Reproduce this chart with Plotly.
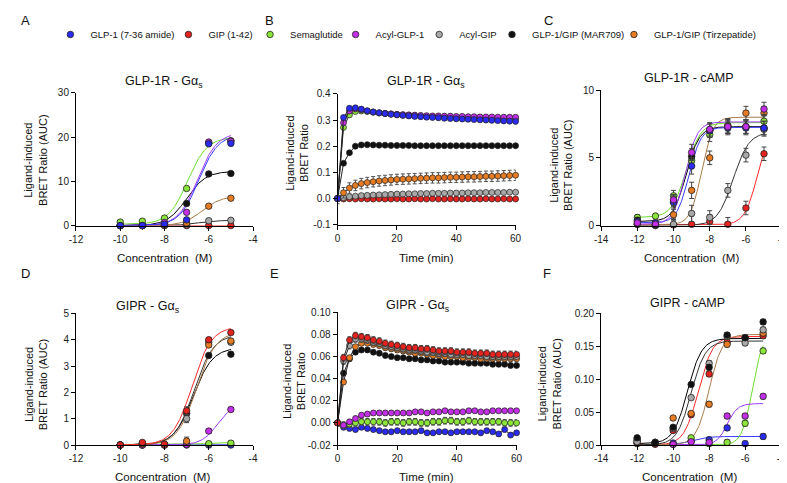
import numpy as np
import plotly.graph_objects as go

# ---------------- series metadata ----------------
names = ["GLP-1 (7-36 amide)", "GIP (1-42)", "Semaglutide", "Acyl-GLP-1",
         "Acyl-GIP", "GLP-1/GIP (MAR709)", "GLP-1/GIP (Tirzepatide)"]
marker_colors = ["#2b2bef", "#e2231f", "#8be43a", "#c22fe6", "#a8a8a8", "#111111", "#e57c24"]
curve_colors = ["#3a3aff", "#ff2a2a", "#6fdc2c", "#9d3cff", "#333333", "#000000", "#a87b4a"]

# ---------------- x values ----------------
conc_gas = [-10, -9, -8, -7, -6, -5]
conc_camp = [-12, -11, -10, -9, -8, -7, -6, -5]
time_min = [0, 2, 4, 6, 8, 10, 12, 14, 16, 18, 20, 22, 24, 26, 28, 30,
            32, 34, 36, 38, 40, 42, 44, 46, 48, 50, 52, 54, 56, 58, 60]

# ---------------- Panel A: GLP-1R Gas AUC ----------------
a_glp1 = [0.0, 0.0, 0.3, 1.3, 18.5, 18.6]
a_gip = [0.0, 0.0, 0.0, 0.0, 0.0, 0.0]
a_sema = [0.8, 1.0, 1.7, 8.4, 18.7, 19.2]
a_acylglp1 = [0.0, 0.0, 0.7, 3.0, 18.9, 19.1]
a_acylgip = [0.0, 0.0, 0.1, 0.2, 1.1, 1.2]
a_mar709 = [0.0, 0.0, 0.5, 5.0, 11.7, 11.8]
a_tirz = [0.0, 0.0, 0.1, 0.6, 4.4, 6.2]
a_err = [0.3, 0.3, 0.3, 0.4, 0.4, 0.4]
# fitted curve parameters: bottom, top, logEC50, hill
a_fit = [(0, 20.6, -6.45, 1.0), (0, 0.02, -6.0, 1.0), (0.3, 20.0, -6.95, 1.0),
         (0, 21.0, -6.5, 1.0), (0, 1.2, -6.5, 1.0), (0, 12.3, -7.0, 1.0), (0, 6.7, -6.3, 1.0)]

# ---------------- Panel B: GLP-1R Gas kinetics ----------------
b_glp1 = [0.000, 0.310, 0.345, 0.347, 0.342, 0.336, 0.331, 0.328, 0.325, 0.322, 0.320,
          0.318, 0.316, 0.314, 0.313, 0.311, 0.310, 0.309, 0.307, 0.306, 0.305,
          0.304, 0.303, 0.302, 0.301, 0.300, 0.299, 0.298, 0.297, 0.296, 0.295]
b_gip = [0.000, -0.002, -0.001, -0.002, -0.001, -0.002, -0.002, -0.001, -0.002, -0.002, -0.001,
         -0.002, -0.002, -0.001, -0.002, -0.002, -0.001, -0.002, -0.002, -0.001, -0.002,
         -0.002, -0.001, -0.002, -0.002, -0.001, -0.002, -0.002, -0.001, -0.002, -0.002]
b_sema = [0.000, 0.272, 0.320, 0.333, 0.335, 0.333, 0.330, 0.327, 0.325, 0.323, 0.321,
          0.319, 0.318, 0.317, 0.315, 0.314, 0.313, 0.312, 0.311, 0.311, 0.310,
          0.309, 0.309, 0.308, 0.308, 0.307, 0.307, 0.306, 0.306, 0.306, 0.305]
b_acylglp1 = [0.000, 0.290, 0.335, 0.343, 0.340, 0.335, 0.331, 0.328, 0.326, 0.324, 0.322,
              0.321, 0.320, 0.319, 0.318, 0.317, 0.316, 0.316, 0.315, 0.315, 0.314,
              0.314, 0.313, 0.313, 0.312, 0.312, 0.312, 0.311, 0.311, 0.311, 0.311]
b_acylgip = [0.000, 0.003, 0.007, 0.009, 0.011, 0.012, 0.013, 0.014, 0.015, 0.016, 0.017,
             0.017, 0.018, 0.018, 0.019, 0.019, 0.020, 0.020, 0.020, 0.021, 0.021,
             0.021, 0.022, 0.022, 0.022, 0.023, 0.023, 0.023, 0.023, 0.024, 0.024]
b_mar709 = [0.000, 0.135, 0.175, 0.200, 0.205, 0.206, 0.205, 0.204, 0.204, 0.203, 0.203,
            0.203, 0.203, 0.202, 0.202, 0.202, 0.202, 0.202, 0.202, 0.202, 0.202,
            0.202, 0.202, 0.202, 0.202, 0.202, 0.202, 0.202, 0.202, 0.202, 0.202]
b_tirz = [0.000, 0.022, 0.040, 0.050, 0.057, 0.061, 0.064, 0.067, 0.069, 0.071, 0.073,
          0.074, 0.075, 0.076, 0.077, 0.078, 0.079, 0.079, 0.080, 0.081, 0.081,
          0.082, 0.083, 0.083, 0.084, 0.085, 0.085, 0.086, 0.087, 0.088, 0.089]
b_err = [0.008, 0.003, 0.008, 0.008, 0.005, 0.003, 0.020]

# ---------------- Panel C: GLP-1R cAMP ----------------
c_glp1 = [0.3, 0.2, 1.7, 4.4, 7.0, 7.2, 7.2, 7.2]
c_gip = [0.1, 0.05, 0.05, 0.1, 0.3, 0.1, 1.3, 5.3]
c_sema = [0.6, 0.7, 2.2, 4.8, 6.7, 7.4, 7.3, 7.7]
c_acylglp1 = [0.2, 0.1, 1.9, 5.4, 7.1, 7.3, 7.3, 8.6]
c_acylgip = [0.1, 0.0, 0.1, 0.9, 0.6, 2.6, 5.2, 7.1]
c_mar709 = [0.4, 0.05, 1.8, 5.1, 7.0, 7.3, 7.3, 7.2]
c_tirz = [0.1, 0.1, 0.8, 2.6, 5.0, 7.3, 8.3, 8.3]
c_err = [0.2, 0.2, 0.4, 0.6, 0.5, 0.5, 0.5, 0.5]
c_fit = [(0.2, 7.25, -9.15, 1.3), (0.05, 7.5, -5.35, 1.2), (0.6, 7.6, -9.3, 1.1),
         (0.1, 7.65, -9.35, 1.3), (0.0, 6.9, -6.7, 1.0), (0.3, 7.3, -9.3, 1.2), (0.05, 8.0, -8.45, 1.4)]

# ---------------- Panel D: GIPR Gas AUC ----------------
d_glp1 = [0.0, 0.0, 0.0, 0.0, 0.0, 0.0]
d_gip = [0.0, 0.1, 0.03, 1.3, 4.0, 4.27]
d_sema = [0.0, 0.0, 0.02, 0.02, 0.05, 0.07]
d_acylglp1 = [0.0, 0.0, 0.0, 0.02, 0.53, 1.35]
d_acylgip = [0.0, 0.05, 0.02, 1.0, 3.9, 3.9]
d_mar709 = [0.0, 0.05, 0.02, 1.2, 3.4, 3.45]
d_tirz = [0.0, 0.05, 0.0, 0.15, 3.8, 3.95]
d_err = [0.03, 0.03, 0.03, 0.15, 0.08, 0.08]
d_fit = [(0, 0.01, -6.0, 1.0), (0, 4.5, -6.75, 1.0), (0.02, 0.1, -6.0, 1.0),
         (0, 1.6, -5.6, 1.2), (0, 4.2, -6.65, 1.0), (0, 3.7, -6.7, 1.0), (0, 4.3, -6.55, 1.0)]

# ---------------- Panel E: GIPR Gas kinetics ----------------
e_glp1 = [0.000, -0.004, -0.005, -0.006, -0.004, -0.005, -0.006, -0.007, -0.008, -0.008, -0.007,
          -0.008, -0.008, -0.008, -0.007, -0.009, -0.009, -0.008, -0.008, -0.009, -0.008,
          -0.008, -0.008, -0.008, -0.009, -0.007, -0.008, -0.010, -0.006, -0.011, -0.009]
e_gip = [0.000, 0.059, 0.075, 0.079, 0.078, 0.077, 0.075, 0.074, 0.072, 0.071, 0.070,
         0.069, 0.068, 0.068, 0.067, 0.067, 0.066, 0.065, 0.065, 0.065, 0.064,
         0.064, 0.064, 0.063, 0.063, 0.063, 0.062, 0.062, 0.062, 0.062, 0.062]
e_sema = [0.000, -0.002, -0.001, 0.000, 0.001, 0.001, 0.001, 0.001, 0.000, 0.001, 0.001,
          0.000, 0.001, 0.001, 0.000, 0.000, 0.001, 0.001, 0.002, 0.002, 0.001,
          0.001, 0.002, 0.001, 0.001, 0.001, 0.001, 0.001, 0.000, 0.000, 0.000]
e_acylglp1 = [0.000, -0.002, 0.001, 0.004, 0.007, 0.008, 0.009, 0.009, 0.009, 0.009, 0.009,
              0.009, 0.009, 0.010, 0.010, 0.009, 0.010, 0.010, 0.011, 0.010, 0.010,
              0.010, 0.011, 0.011, 0.010, 0.010, 0.011, 0.011, 0.011, 0.011, 0.011]
e_acylgip = [0.000, 0.056, 0.070, 0.076, 0.076, 0.075, 0.073, 0.072, 0.070, 0.069, 0.068,
             0.067, 0.066, 0.066, 0.065, 0.064, 0.064, 0.063, 0.063, 0.062, 0.062,
             0.062, 0.061, 0.061, 0.061, 0.060, 0.060, 0.060, 0.060, 0.060, 0.060]
e_mar709 = [0.000, 0.045, 0.058, 0.064, 0.066, 0.066, 0.064, 0.063, 0.061, 0.060, 0.059,
            0.059, 0.058, 0.058, 0.057, 0.057, 0.056, 0.056, 0.055, 0.055, 0.055,
            0.055, 0.054, 0.054, 0.054, 0.054, 0.053, 0.053, 0.053, 0.052, 0.052]
e_tirz = [0.000, 0.037, 0.059, 0.069, 0.072, 0.072, 0.071, 0.070, 0.068, 0.067, 0.066,
          0.065, 0.064, 0.063, 0.063, 0.062, 0.061, 0.061, 0.060, 0.060, 0.060,
          0.059, 0.059, 0.059, 0.058, 0.058, 0.058, 0.058, 0.058, 0.058, 0.058]
e_err = [0.002, 0.003, 0.003, 0.002, 0.003, 0.002, 0.002]

# ---------------- Panel F: GIPR cAMP ----------------
f_glp1 = [0.009, 0.004, 0.003, 0.006, 0.008, 0.026, 0.002, 0.013]
f_gip = [0.003, 0.001, 0.022, 0.046, 0.108, 0.156, 0.163, 0.166]
f_sema = [0.002, 0.004, 0.001, 0.011, 0.002, 0.004, 0.033, 0.143]
f_acylglp1 = [0.004, 0.002, 0.001, 0.005, 0.004, 0.044, 0.044, 0.074]
f_acylgip = [0.005, 0.003, 0.025, 0.072, 0.124, 0.165, 0.155, 0.175]
f_mar709 = [0.011, 0.004, 0.027, 0.092, 0.118, 0.167, 0.163, 0.187]
f_tirz = [0.007, 0.003, 0.041, 0.048, 0.062, 0.153, 0.162, 0.170]
f_err = [0.002, 0.002, 0.003, 0.003, 0.004, 0.004, 0.004, 0.004]
f_fit = [(0.0, 0.013, -9.0, 1.0), (0.0, 0.165, -8.6, 1.1), (0.0, 0.17, -5.6, 1.5),
         (0.0, 0.063, -7.0, 1.5), (0.0, 0.158, -9.0, 1.1), (0.002, 0.162, -9.2, 1.1), (0.0, 0.168, -8.0, 1.2)]

# ---------------- tick labels ----------------
conc_ticks_a = [-12, -10, -8, -6, -4]
conc_ticks_c = [-14, -12, -10, -8, -6, -4]
time_ticks = [0, 20, 40, 60]
a_yticks = [0, 10, 20, 30]
b_yticks = [-0.1, 0.0, 0.1, 0.2, 0.3, 0.4]
c_yticks = [0, 5, 10]
d_yticks = [0, 1, 2, 3, 4, 5]
e_yticks = [-0.02, 0.00, 0.02, 0.04, 0.06, 0.08, 0.10]
f_yticks = [0.00, 0.05, 0.10, 0.15, 0.20]

panel_titles = ["GLP-1R - G&#945;<sub>s</sub>", "GLP-1R - G&#945;<sub>s</sub>", "GLP-1R - cAMP",
                "GIPR - G&#945;<sub>s</sub>", "GIPR - G&#945;<sub>s</sub>", "GIPR - cAMP"]
x_titles = ["Concentration\u00a0 (M)", "Time (min)", "Concentration\u00a0 (M)",
            "Concentration\u00a0 (M)", "Time (min)", "Concentration\u00a0 (M)"]
y_titles = ["Ligand-induced<br>BRET Ratio (AUC)", "Ligand-induced<br>BRET Ratio",
            "Ligand-induced<br>BRET Ratio (AUC)", "Ligand-induced<br>BRET Ratio (AUC)",
            "Ligand-induced<br>BRET Ratio", "Ligand-induced<br>BRET Ratio (AUC)"]
panel_letters = ["A", "B", "C", "D", "E", "F"]

W, H = 787, 483
FONT = "Liberation Sans, Arial, Helvetica, sans-serif"


def fmt(v, d):
    return f"{v:.{d}f}"


def px_x(p):
    return p / W


def px_y(p):
    return 1 - p / H


def logistic(x, bottom, top, logec50, hill):
    return bottom + (top - bottom) / (1 + 10 ** ((logec50 - x) * hill))


fig = go.Figure()

# panel boxes in pixels: left, right, top, bottom
boxes = [(62, 242, 81, 217), (328, 509, 82, 216), (596, 780, 78, 217),
         (62, 242, 307, 442), (328, 510, 306, 442), (596, 779, 307, 442)]
ranges_x = [[-12, -4], [0, 60], [-14, -4], [-12, -4], [0, 60], [-14, -4]]
ranges_y = [[0, 30], [-0.1, 0.4], [0, 10], [0, 5], [-0.02, 0.10], [0, 0.20]]
xticks = [conc_ticks_a, time_ticks, conc_ticks_c, conc_ticks_a, time_ticks, conc_ticks_c]
yticks = [a_yticks, b_yticks, c_yticks, d_yticks, e_yticks, f_yticks]
ydec = [0, 1, 0, 0, 2, 2]

for i in range(6):
    l, r, t, b = boxes[i]
    sfx = "" if i == 0 else str(i + 1)
    common = dict(showline=True, linecolor="black", linewidth=1, ticks="outside",
                  ticklen=4, tickwidth=1, tickcolor="black", showgrid=False,
                  zeroline=False, fixedrange=True,
                  tickfont=dict(size=10, color="#1a1a1a", family=FONT))
    fig.layout["xaxis" + sfx] = dict(
        domain=[px_x(l), px_x(r)], range=ranges_x[i], anchor="y" + sfx,
        tickvals=xticks[i], ticktext=[str(v) for v in xticks[i]], **common)
    fig.layout["yaxis" + sfx] = dict(
        domain=[px_y(b), px_y(t)], range=ranges_y[i], anchor="x" + sfx,
        tickvals=yticks[i], ticktext=[fmt(v, ydec[i]) for v in yticks[i]], **common)

# ---------------- dose-response panels ----------------
dose_panels = [
    (0, conc_gas, [a_glp1, a_gip, a_sema, a_acylglp1, a_acylgip, a_mar709, a_tirz], a_err, a_fit, [1, 4, 6, 5, 2, 3, 0]),
    (2, conc_camp, [c_glp1, c_gip, c_sema, c_acylglp1, c_acylgip, c_mar709, c_tirz], c_err, c_fit, [1, 4, 6, 2, 5, 0, 3]),
    (3, conc_gas, [d_glp1, d_gip, d_sema, d_acylglp1, d_acylgip, d_mar709, d_tirz], d_err, d_fit, [0, 2, 3, 5, 4, 6, 1]),
    (5, conc_camp, [f_glp1, f_gip, f_sema, f_acylglp1, f_acylgip, f_mar709, f_tirz], f_err, f_fit, [0, 2, 3, 1, 6, 4, 5]),
]

for (pi, xs, series, err, fits, order) in dose_panels:
    sfx = "" if pi == 0 else str(pi + 1)
    xgrid = np.linspace(min(xs), max(xs), 200)
    for k in order:
        bot, top, ec, h = fits[k]
        fig.add_trace(go.Scatter(
            x=xgrid, y=logistic(xgrid, bot, top, ec, h), mode="lines",
            line=dict(color=curve_colors[k], width=1), hoverinfo="skip",
            showlegend=False, xaxis="x" + sfx, yaxis="y" + sfx, cliponaxis=False))
    for k in order:
        show = (pi == 0)
        fig.add_trace(go.Scatter(
            x=xs, y=series[k], mode="markers", name=names[k],
            marker=dict(size=6.5, color=marker_colors[k], line=dict(color="#222", width=0.8)),
            error_y=dict(type="data", array=err, color="#444", thickness=1, width=2.5),
            showlegend=show, legend=("legend" if k == 0 else "legend" + str(k + 1)),
            xaxis="x" + sfx, yaxis="y" + sfx, cliponaxis=False))

# ---------------- kinetic panels ----------------
kin_panels = [
    (1, [b_glp1, b_gip, b_sema, b_acylglp1, b_acylgip, b_mar709, b_tirz], b_err, [1, 4, 6, 5, 2, 3, 0]),
    (4, [e_glp1, e_gip, e_sema, e_acylglp1, e_acylgip, e_mar709, e_tirz], e_err, [0, 2, 3, 5, 6, 4, 1]),
]
for (pi, series, err, order) in kin_panels:
    sfx = str(pi + 1)
    for k in order:
        fig.add_trace(go.Scatter(
            x=time_min, y=series[k], mode="lines+markers",
            line=dict(color="#222", width=1),
            marker=dict(size=6, color=marker_colors[k], line=dict(color="#222", width=0.7)),
            error_y=dict(type="constant", value=err[k], color="#555", thickness=1, width=2),
            showlegend=False, xaxis="x" + sfx, yaxis="y" + sfx, cliponaxis=False))

# ---------------- annotations ----------------
ann = []
title_pos = [(152, 70), (418, 70), (685, 66), (135, 300), (410, 299), (684, 296)]
xtitle_pos = [(152, 250), (418, 250), (688, 250), (150, 475), (418, 475), (686, 475)]
ytitle_pos = [(21, 150), (287, 143), (555, 155), (21, 380), (283, 377), (543, 380)]
letter_pos = [(4, 7), (252, 7), (536, 7), (4, 266), (257, 266), (535, 266)]
for i in range(6):
    ann.append(dict(text=panel_titles[i], x=px_x(title_pos[i][0]), y=px_y(title_pos[i][1]),
                    xref="paper", yref="paper", showarrow=False, xanchor="center", yanchor="middle",
                    font=dict(size=12.5, family=FONT, color="#111")))
    ann.append(dict(text=x_titles[i], x=px_x(xtitle_pos[i][0]), y=px_y(xtitle_pos[i][1]),
                    xref="paper", yref="paper", showarrow=False, xanchor="center", yanchor="middle",
                    font=dict(size=11.5, family=FONT, color="#111")))
    ann.append(dict(text=y_titles[i], x=px_x(ytitle_pos[i][0]), y=px_y(ytitle_pos[i][1]),
                    xref="paper", yref="paper", showarrow=False, xanchor="center", yanchor="middle",
                    textangle=-90, font=dict(size=11, family=FONT, color="#111")))
    ann.append(dict(text=panel_letters[i], x=px_x(letter_pos[i][0]), y=px_y(letter_pos[i][1]),
                    xref="paper", yref="paper", showarrow=False, xanchor="left", yanchor="middle",
                    font=dict(size=13, family=FONT, color="#111")))

# ---------------- legends (one per series, laid out in a row) ----------------
legend_marker_px = [62, 182, 265, 352, 437, 511, 635]
legends = {}
for k in range(7):
    key = "legend" if k == 0 else "legend" + str(k + 1)
    legends[key] = dict(x=px_x(legend_marker_px[k] - 26), y=px_y(21), xanchor="left", yanchor="middle",
                        orientation="h", bgcolor="rgba(0,0,0,0)", borderwidth=0,
                        font=dict(size=9.5, family=FONT, color="#111"), itemwidth=30)

fig.update_layout(
    width=W, height=H, margin=dict(l=0, r=0, t=0, b=0),
    paper_bgcolor="white", plot_bgcolor="white",
    font=dict(family=FONT, color="#111"),
    annotations=ann, **legends)

fig.write_html("out.html")
